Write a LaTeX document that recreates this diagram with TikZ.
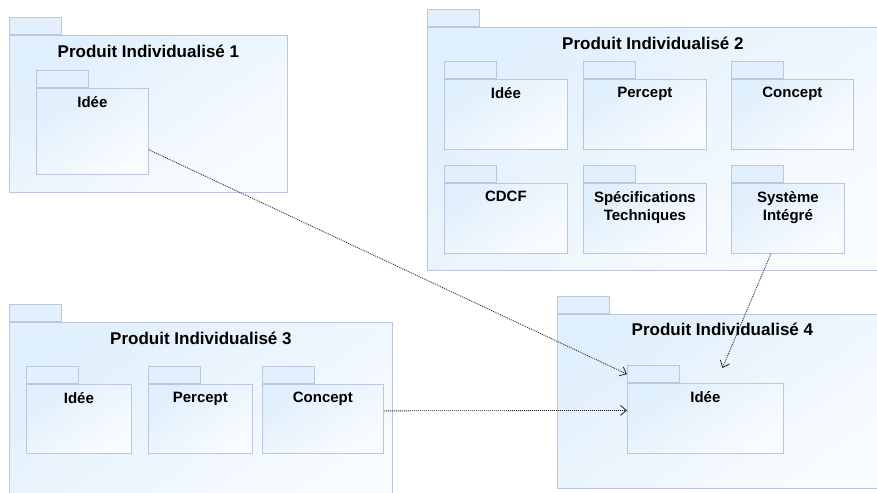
\documentclass[tikz,border=0pt]{standalone}
\usepackage{fontspec}
\setmainfont{Liberation Sans}
\usetikzlibrary{arrows.meta, positioning}
\definecolor{pkgEdge}{HTML}{BCC6E0}
\definecolor{pkgTab}{HTML}{E1F0FC}
\definecolor{pkgTop}{HTML}{E0EFFC}
\definecolor{pkgBot}{HTML}{F9FCFF}
\definecolor{depLine}{HTML}{222222}
\tikzset{
  pkg/.style={draw=pkgEdge, line width=0.8pt, top color=pkgTop, bottom color=pkgBot,
              shading angle=35, anchor=north west, inner sep=0pt},
  pkgtab/.style={draw=pkgEdge, line width=0.8pt, fill=pkgTab, anchor=south west,
                 minimum width=52pt, minimum height=17pt, inner sep=0pt},
  title/.style={font=\fontsize{17}{20}\selectfont\bfseries, inner sep=0pt},
  lbl/.style={font=\fontsize{15}{18}\selectfont\bfseries, align=center, inner sep=0pt},
  dep/.style={draw=depLine, line width=0.8pt, dash pattern=on 1pt off 1pt,
              -{Straight Barb[length=6pt, width=10pt]}},
}
\begin{document}
\begin{tikzpicture}[x=1pt, y=-1pt]
\useasboundingbox (0,0) rectangle (877,492);
\clip (0,0) rectangle (877,492);
% outer packages
\foreach \n/\x/\y/\w/\h in {p1/9/35/278/157, p2/427/27/451/243,
                            p3/9/322/383/190, p4/557/314/330/174}{
  \node[pkg, minimum width=\w pt, minimum height=\h pt] (\n) at (\x,\y) {};
  \node[pkgtab] (\n-tab) at (\n.north west) {};
}
\node[title, below=10pt of p1.north] (p1-title) {Produit Individualisé 1};
\node[title, below=10pt of p2.north] (p2-title) {Produit Individualisé 2};
\node[title, below=10pt of p3.north] (p3-title) {Produit Individualisé 3};
\node[title, below=9pt of p4.north] (p4-title) {Produit Individualisé 4};
% inner packages
\foreach \n/\x/\y/\w/\h/\t in {idee1/36/88/112/86/{Idée},
    idee2/444/79/123/70/{Idée}, percept2/583/79/123/70/{Percept},
    concept2/731/79/122/70/{Concept}, cdcf2/444/183/123/70/{CDCF},
    spec2/583/183/123/70/{Spécifications\\Techniques},
    sys2/731/183/113/70/{Système\\Intégré},
    idee3/26/384/105/69/{Idée}, percept3/148/384/104/69/{Percept},
    concept3/262/384/121/69/{Concept}, idee4/627/383/156/70/{Idée}}{
  \node[pkg, minimum width=\w pt, minimum height=\h pt] (\n) at (\x,\y) {};
  \node[pkgtab] (\n-tab) at (\n.north west) {};
  \node[lbl, below=8pt of \n.north] (\n-lbl) {\t};
}
% dependencies
\draw[dep] (idee1.-18) -- (idee4-tab.west);
\draw[dep] ([yshift=8pt]concept3.east) -- ([yshift=8pt]idee4.west);
\draw[dep] ([xshift=-17pt]sys2.south) -- ([xshift=17pt, yshift=15pt]idee4.north);
\end{tikzpicture}
\end{document}
